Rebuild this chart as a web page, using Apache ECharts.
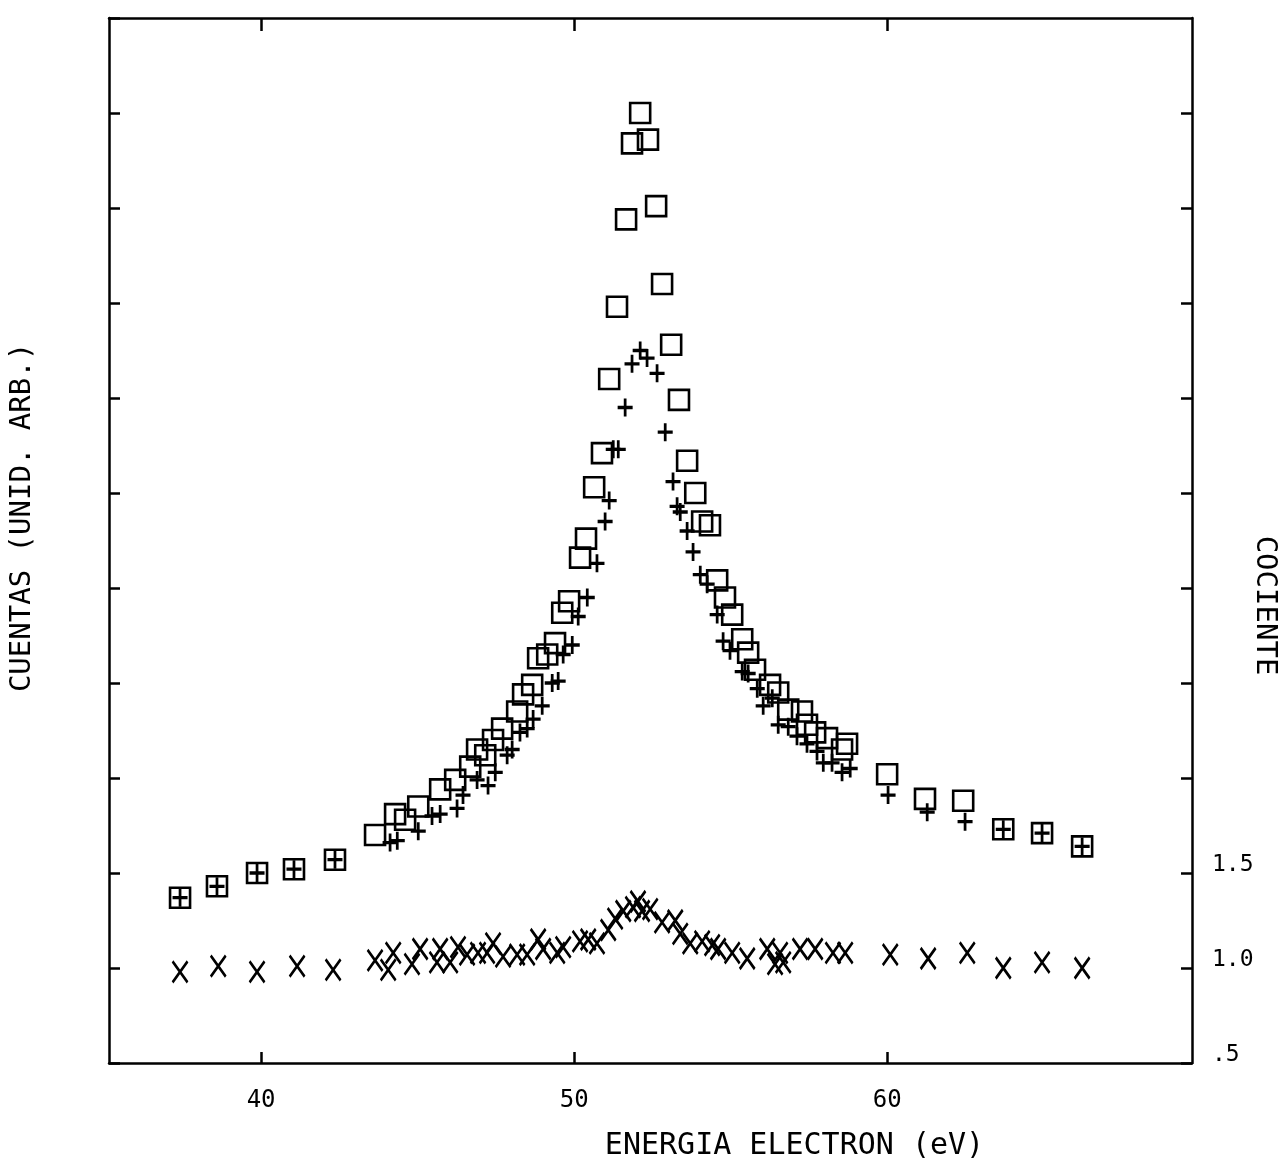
<!DOCTYPE html>
<html>
<head>
<meta charset="utf-8">
<script src="https://cdn.jsdelivr.net/npm/echarts@6/dist/echarts.min.js"></script>
<style>
html,body{margin:0;padding:0;background:#fff;}
#chart{width:1283px;height:1160px;}
</style>
</head>
<body>
<div id="chart"></div>
<script>
// Counts, square markers (□)
const energySquare = [37.41,38.59,39.87,41.05,42.36,43.64,44.28,44.60,45.02,45.72,46.20,46.68,46.90,47.16,47.41,47.70,48.18,48.37,48.66,48.85,49.14,49.39,49.62,49.84,50.19,50.38,50.64,50.89,51.12,51.37,51.66,51.85,52.11,52.36,52.62,52.81,53.10,53.35,53.61,53.87,54.09,54.34,54.57,54.82,55.05,55.37,55.56,55.78,56.26,56.52,56.84,57.28,57.44,57.70,58.08,58.56,58.72,60.00,61.21,62.43,63.71,64.95,66.23];
const countsSquare = [1.37,1.43,1.50,1.52,1.57,1.70,1.81,1.78,1.85,1.94,1.99,2.06,2.15,2.12,2.20,2.26,2.35,2.44,2.49,2.63,2.65,2.71,2.87,2.93,3.16,3.26,3.53,3.71,4.10,4.48,4.94,5.34,5.50,5.36,5.01,4.60,4.28,3.99,3.67,3.50,3.35,3.33,3.04,2.95,2.86,2.73,2.66,2.57,2.49,2.45,2.36,2.35,2.28,2.24,2.21,2.15,2.18,2.02,1.89,1.88,1.73,1.71,1.64];

// Counts, plus markers (+)
const energyPlus = [37.41,38.59,39.87,41.05,42.36,44.12,44.35,45.02,45.46,45.72,46.26,46.45,46.90,47.25,47.48,47.86,48.02,48.27,48.50,48.69,48.98,49.30,49.49,49.65,49.94,50.13,50.42,50.73,50.99,51.12,51.25,51.41,51.63,51.85,52.11,52.33,52.65,52.91,53.16,53.29,53.39,53.61,53.80,54.03,54.25,54.57,54.76,54.98,55.37,55.56,55.85,56.04,56.33,56.52,56.84,57.12,57.44,57.76,57.96,58.24,58.56,58.82,60.03,61.28,62.49,63.71,64.95,66.23];
const countsPlus = [1.37,1.43,1.50,1.52,1.57,1.66,1.67,1.72,1.80,1.81,1.84,1.91,1.99,1.96,2.03,2.12,2.15,2.24,2.26,2.31,2.38,2.50,2.51,2.65,2.70,2.85,2.95,3.13,3.35,3.46,3.73,3.73,3.95,4.18,4.25,4.21,4.13,3.82,3.56,3.43,3.40,3.30,3.19,3.07,3.02,2.86,2.72,2.67,2.56,2.55,2.47,2.38,2.42,2.28,2.27,2.22,2.18,2.14,2.08,2.08,2.03,2.05,1.91,1.82,1.77,1.73,1.71,1.64];

// Ratio (cociente), X markers
const energyRatio = [37.41,38.63,39.87,41.15,42.30,43.64,44.06,44.22,44.82,45.08,45.62,45.72,46.04,46.29,46.58,46.93,47.22,47.41,47.73,48.18,48.50,48.85,49.01,49.46,49.65,50.19,50.45,50.73,51.09,51.31,51.57,51.88,52.04,52.17,52.43,52.81,53.23,53.39,53.71,54.09,54.41,54.60,55.05,55.53,56.17,56.42,56.58,56.68,57.22,57.70,58.27,58.66,60.10,61.31,62.56,63.71,64.95,66.23];
const ratio = [0.98,1.01,0.98,1.01,0.99,1.04,0.99,1.08,1.02,1.10,1.03,1.10,1.03,1.11,1.07,1.08,1.08,1.13,1.06,1.07,1.07,1.15,1.10,1.08,1.11,1.14,1.15,1.13,1.20,1.26,1.30,1.32,1.35,1.30,1.31,1.24,1.25,1.18,1.13,1.14,1.12,1.10,1.08,1.05,1.10,1.02,1.08,1.03,1.10,1.10,1.08,1.08,1.07,1.05,1.08,1.00,1.03,1.00];

const xTicks = [40, 50, 60];
const ratioTickLabels = {0.5: '.5', 1: '1.0', 1.5: '1.5'};

const zip = (a, b) => a.map((v, i) => [v, b[i]]);
const FONT = 'DejaVu Sans Mono';
const axisLine = {show: true, lineStyle: {color: '#000', width: 2.5}};

const chart = echarts.init(document.getElementById('chart'), null, {renderer: 'canvas'});
chart.setOption({
  animation: false,
  backgroundColor: '#fff',
  grid: {left: 109, right: 91, top: 18, bottom: 97, containLabel: false, outerBoundsMode: 'none'},
  xAxis: [
    {
      type: 'value', position: 'bottom', min: 35.14, max: 69.74,
      name: 'ENERGIA ELECTRON (eV)', nameLocation: 'middle', nameGap: 68, nameMoveOverlap: false,
      nameTextStyle: {fontFamily: FONT, fontSize: 30, color: '#000', padding: [0, 0, 0, 288]},
      axisLine: axisLine,
      axisTick: {show: true, inside: true, length: 11, lineStyle: {color: '#000', width: 2.5}, customValues: xTicks},
      axisLabel: {show: true, margin: 26, fontFamily: FONT, fontSize: 24, color: '#000', customValues: xTicks},
      splitLine: {show: false}
    },
    {
      type: 'value', position: 'top', min: 35.14, max: 69.74,
      axisLine: axisLine,
      axisTick: {show: true, inside: true, length: 13, lineStyle: {color: '#000', width: 2.5}, customValues: xTicks},
      axisLabel: {show: false},
      splitLine: {show: false}
    }
  ],
  yAxis: [
    {
      type: 'value', position: 'left', min: 0.5, max: 6.0, interval: 0.5,
      name: 'CUENTAS (UNID. ARB.)', nameLocation: 'middle', nameGap: 72, nameRotate: 90, nameMoveOverlap: false,
      nameTextStyle: {fontFamily: FONT, fontSize: 29, color: '#000', padding: [0, 0, 0, 46]},
      axisLine: axisLine,
      axisTick: {show: true, inside: true, length: 11, lineStyle: {color: '#000', width: 2.5}},
      axisLabel: {show: false},
      splitLine: {show: false}
    },
    {
      type: 'value', position: 'right', min: 0.5, max: 6.0, interval: 0.5,
      name: 'COCIENTE', nameLocation: 'middle', nameGap: 58, nameRotate: -90, nameMoveOverlap: false,
      nameTextStyle: {fontFamily: FONT, fontSize: 29, color: '#000', padding: [0, 0, 0, 130]},
      axisLine: axisLine,
      axisTick: {show: true, inside: true, length: 11, lineStyle: {color: '#000', width: 2.5}},
      axisLabel: {
        show: true, margin: 20, fontFamily: FONT, fontSize: 23, color: '#000',
        verticalAlign: 'bottom', lineHeight: 16,
        showMinLabel: true, showMaxLabel: false,
        formatter: v => ratioTickLabels[Math.round(v * 10) / 10] || ''
      },
      splitLine: {show: false}
    }
  ],
  series: [
    {
      name: 'cuadrados', type: 'scatter', xAxisIndex: 0, yAxisIndex: 0,
      data: zip(energySquare, countsSquare),
      symbol: 'rect', symbolSize: 20,
      itemStyle: {color: 'rgba(0,0,0,0)', borderColor: '#000', borderWidth: 2.6, opacity: 1},
      emphasis: {disabled: true}, z: 3
    },
    {
      name: 'cruces', type: 'scatter', xAxisIndex: 0, yAxisIndex: 0,
      data: zip(energyPlus, countsPlus),
      symbol: 'path://M5,0L5,12M0,6L10,6', symbolSize: [15, 18],
      itemStyle: {color: 'rgba(0,0,0,0)', borderColor: '#000', borderWidth: 3, opacity: 1},
      emphasis: {disabled: true}, z: 4
    },
    {
      name: 'cociente', type: 'scatter', xAxisIndex: 0, yAxisIndex: 1,
      data: zip(energyRatio, ratio),
      symbol: 'path://M0,0L10,14M10,0L0,14', symbolSize: [15, 21],
      itemStyle: {color: 'rgba(0,0,0,0)', borderColor: '#000', borderWidth: 2.8, opacity: 1},
      emphasis: {disabled: true}, z: 4
    }
  ]
});
</script>
</body>
</html>
